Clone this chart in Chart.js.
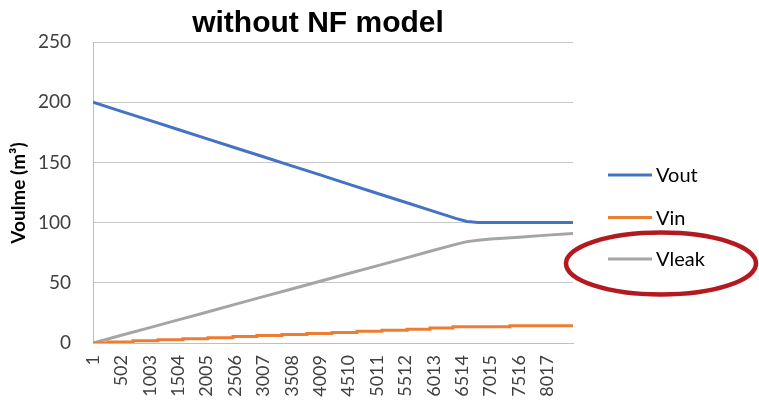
<!DOCTYPE html>
<html>
<head>
<meta charset="utf-8">
<script src="https://cdn.jsdelivr.net/npm/chart.js@4"></script>
<style>
  html, body { margin: 0; padding: 0; background: #fff; }
  #wrap { width: 759px; height: 406px; }
</style>
</head>
<body>
<div id="wrap"><canvas id="chart" width="759" height="406"></canvas></div>
<script>
// Data
const xTicks = [1, 502, 1003, 1504, 2005, 2506, 3007, 3508, 4009, 4510, 5011, 5512, 6013, 6514, 7015, 7516, 8017];
const xPoints = [1, 502, 1003, 1504, 2005, 2506, 3007, 3508, 4009, 4510, 5011, 5512, 6013, 6400, 6600, 6800, 7015, 7516, 8017, 8470];
const vout = [200, 192.4, 184.9, 177.3, 169.8, 162.2, 154.7, 147.1, 139.6, 132.0, 124.4, 116.9, 109.3, 103.5, 101.0, 100.1, 100, 100, 100, 100];
const vleak = [0, 6.4, 12.8, 19.2, 25.6, 32.1, 38.5, 44.9, 51.3, 57.7, 64.1, 70.5, 77.0, 81.9, 84.2, 85.4, 86.3, 87.9, 89.6, 91.0];
const vinSteps = [1, 265, 706, 1147, 1588, 2029, 2470, 2894, 3335, 3776, 4217, 4659, 5100, 5541, 5947, 6353, 7358, 8470];
const vin = [0, 0.9, 1.8, 2.6, 3.5, 4.4, 5.3, 6.2, 7.0, 7.9, 8.8, 9.7, 10.6, 11.4, 12.5, 13.5, 14.3, 14.3];
const yTicks = [0, 50, 100, 150, 200, 250];

const toXY = (xs, ys) => xs.map((x, i) => ({ x: x, y: ys[i] }));

// Title, axis title, legend and the red ring
const decorations = {
    id: 'decorations',
    afterDraw(chart) {
        const ctx = chart.ctx;
        ctx.save();
        ctx.fillStyle = '#000';
        ctx.font = 'bold 30px "Liberation Sans", Arial, sans-serif';
        ctx.textAlign = 'center';
        ctx.textBaseline = 'alphabetic';
        ctx.fillText('without NF model', 318, 32);

        ctx.save();
        ctx.translate(19, 193);
        ctx.rotate(-Math.PI / 2);
        ctx.font = 'bold 19px Lato, sans-serif';
        ctx.textBaseline = 'middle';
        ctx.fillText('Voulme (m³)', 0, 0);
        ctx.restore();

        const rows = [175, 217.5, 259];
        ctx.font = '20px Lato, sans-serif';
        ctx.textAlign = 'left';
        ctx.textBaseline = 'middle';
        chart.data.datasets.forEach((ds, i) => {
            ctx.strokeStyle = ds.borderColor;
            ctx.lineWidth = 3;
            ctx.beginPath();
            ctx.moveTo(608, rows[i]);
            ctx.lineTo(652, rows[i]);
            ctx.stroke();
            ctx.fillStyle = '#000';
            ctx.fillText(ds.label, 656, rows[i] + 1);
        });

        ctx.strokeStyle = '#b3191e';
        ctx.lineWidth = 4.5;
        ctx.beginPath();
        ctx.ellipse(661, 263.5, 95, 31, 0, 0, Math.PI * 2);
        ctx.stroke();
        ctx.restore();
    }
};

new Chart(document.getElementById('chart').getContext('2d'), {
    type: 'line',
    data: {
        datasets: [
            { label: 'Vout', data: toXY(xPoints, vout), borderColor: '#4472c4' },
            { label: 'Vin', data: toXY(vinSteps, vin), borderColor: '#ed7d31', stepped: 'before' },
            { label: 'Vleak', data: toXY(xPoints, vleak), borderColor: '#a5a5a5' }
        ]
    },
    options: {
        responsive: false,
        animation: false,
        layout: { padding: { left: 0, right: 186, top: 42, bottom: 0 } },
        elements: {
            point: { radius: 0 },
            line: { borderWidth: 3, tension: 0 }
        },
        scales: {
            x: {
                type: 'linear',
                min: 1,
                max: 8470,
                afterBuildTicks: scale => { scale.ticks = xTicks.map(v => ({ value: v })); },
                afterFit: scale => { scale.height = 63; },
                grid: { display: false, drawTicks: false },
                border: { color: '#bfbfbf' },
                ticks: {
                    autoSkip: false,
                    minRotation: 90,
                    maxRotation: 90,
                    padding: 12,
                    color: '#404040',
                    font: { family: 'Lato', size: 18 },
                    callback: v => String(v)
                }
            },
            y: {
                min: 0,
                max: 250,
                afterBuildTicks: scale => { scale.ticks = yTicks.map(v => ({ value: v })); },
                afterFit: scale => { scale.width = 93; },
                grid: { color: '#c8c8c8', drawTicks: false },
                border: { color: '#bfbfbf' },
                ticks: {
                    padding: 22,
                    color: '#404040',
                    font: { family: 'Lato', size: 19 }
                }
            }
        },
        plugins: {
            legend: { display: false },
            tooltip: { enabled: false }
        }
    },
    plugins: [decorations]
});
</script>
</body>
</html>
